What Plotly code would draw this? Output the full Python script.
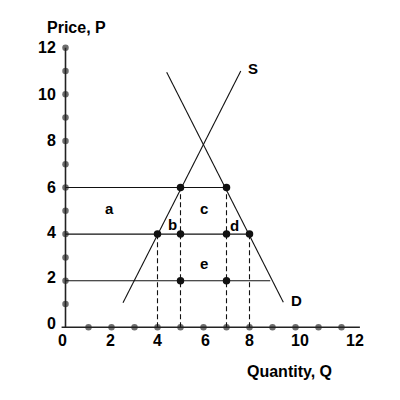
import plotly.graph_objects as go

# ---- data ----
supply_q = [2.5, 7.62]
supply_p = [1.05, 11.0]
demand_q = [4.4, 9.47]
demand_p = [10.95, 1.08]

price_levels = [6, 4, 2]
price_line_end_q = [7, 8, 8.9]

dashed_q = [4, 5, 7, 8]
dashed_top_p = [4, 6, 6, 4]

points_q = [5, 7, 4, 5, 7, 8, 5, 7]
points_p = [6, 6, 4, 4, 4, 4, 2, 2]

axis_dots = list(range(1, 13))

x_tick_text = ["0", "2", "4", "6", "8", "10", "12"]
x_tick_pos = [-0.12, 1.97, 4.02, 6.1, 8.02, 10.2, 12.6]
y_tick_text = ["12", "10", "8", "6", "4", "2", "0"]
y_tick_pos = [12.0, 10.0, 8.02, 6.02, 4.08, 2.13, 0.17]

area_labels = ["a", "b", "c", "d", "e"]
area_q = [1.9, 4.66, 6.03, 7.36, 6.03]
area_p = [5.12, 4.43, 5.1, 4.35, 2.73]

FONT = "Liberation Sans, Arial, sans-serif"

fig = go.Figure()

# axis dots (gray)
fig.add_trace(go.Scatter(x=[0] * len(axis_dots), y=axis_dots, mode="markers",
                         marker=dict(color="#6e6e6e", size=6.5), cliponaxis=False, hoverinfo="skip"))
fig.add_trace(go.Scatter(x=axis_dots, y=[0] * len(axis_dots), mode="markers",
                         marker=dict(color="#6e6e6e", size=6.5), cliponaxis=False, hoverinfo="skip"))

# horizontal price lines
for p, qe in zip(price_levels, price_line_end_q):
    fig.add_trace(go.Scatter(x=[0, qe], y=[p, p], mode="lines",
                             line=dict(color="#111", width=1.1), hoverinfo="skip"))

# dashed verticals
for q, pt in zip(dashed_q, dashed_top_p):
    fig.add_trace(go.Scatter(x=[q, q], y=[0, pt], mode="lines",
                             line=dict(color="#111", width=1.1, dash="5px,3px"), hoverinfo="skip"))

# supply & demand
fig.add_trace(go.Scatter(x=supply_q, y=supply_p, mode="lines",
                         line=dict(color="#111", width=1.1), hoverinfo="skip"))
fig.add_trace(go.Scatter(x=demand_q, y=demand_p, mode="lines",
                         line=dict(color="#111", width=1.1), hoverinfo="skip"))

# axes
fig.add_trace(go.Scatter(x=[-0.17, 12.8], y=[0, 0], mode="lines",
                         line=dict(color="#222", width=1.6), hoverinfo="skip"))
fig.add_trace(go.Scatter(x=[0, 0], y=[0, 12], mode="lines",
                         line=dict(color="#222", width=1.6), hoverinfo="skip"))

# black points
fig.add_trace(go.Scatter(x=points_q, y=points_p, mode="markers",
                         marker=dict(color="#111", size=7.5), hoverinfo="skip"))

ann = []
for t, x in zip(x_tick_text, x_tick_pos):
    ann.append(dict(x=x, y=-0.575, text="<b>%s</b>" % t, showarrow=False,
                    xanchor="center", yanchor="middle", font=dict(size=16, color="#000", family=FONT)))
for t, y in zip(y_tick_text, y_tick_pos):
    ann.append(dict(x=-0.33, y=y, text="<b>%s</b>" % t, showarrow=False,
                    xanchor="right", yanchor="middle", font=dict(size=16, color="#000", family=FONT)))
for t, x, y in zip(area_labels, area_q, area_p):
    ann.append(dict(x=x, y=y, text="<b>%s</b>" % t, showarrow=False,
                    xanchor="center", yanchor="middle", font=dict(size=15, color="#000", family=FONT)))
ann.append(dict(x=8.14, y=11.1, text="<b>S</b>", showarrow=False,
                xanchor="center", yanchor="middle", font=dict(size=15, color="#000", family=FONT)))
ann.append(dict(x=10.05, y=1.17, text="<b>D</b>", showarrow=False,
                xanchor="center", yanchor="middle", font=dict(size=15, color="#000", family=FONT)))
ann.append(dict(x=0.48, y=12.85, text="<b>Price, P</b>", showarrow=False,
                xanchor="center", yanchor="middle", font=dict(size=16, color="#000", family=FONT)))
ann.append(dict(x=9.76, y=-1.9, text="<b>Quantity, Q</b>", showarrow=False,
                xanchor="center", yanchor="middle", font=dict(size=16, color="#000", family=FONT)))

# page body has an 8px margin, so the figure starts at (8, 8) in the window
W, H = 392, 392
l, r, t, b = 12, 38, 14, 24
px_x, px_y = 23.0, 23.3
x0 = -(65.5 - 8 - l) / px_x
x1 = x0 + (W - l - r) / px_x
y0 = -((8 + H - b) - 327.3) / px_y
y1 = y0 + (H - t - b) / px_y

fig.update_layout(
    width=W, height=H,
    margin=dict(l=l, r=r, t=t, b=b, pad=0),
    paper_bgcolor="white", plot_bgcolor="white",
    showlegend=False,
    xaxis=dict(range=[x0, x1], visible=False, fixedrange=True),
    yaxis=dict(range=[y0, y1], visible=False, fixedrange=True),
    annotations=ann,
)

fig.write_html("out.html")
